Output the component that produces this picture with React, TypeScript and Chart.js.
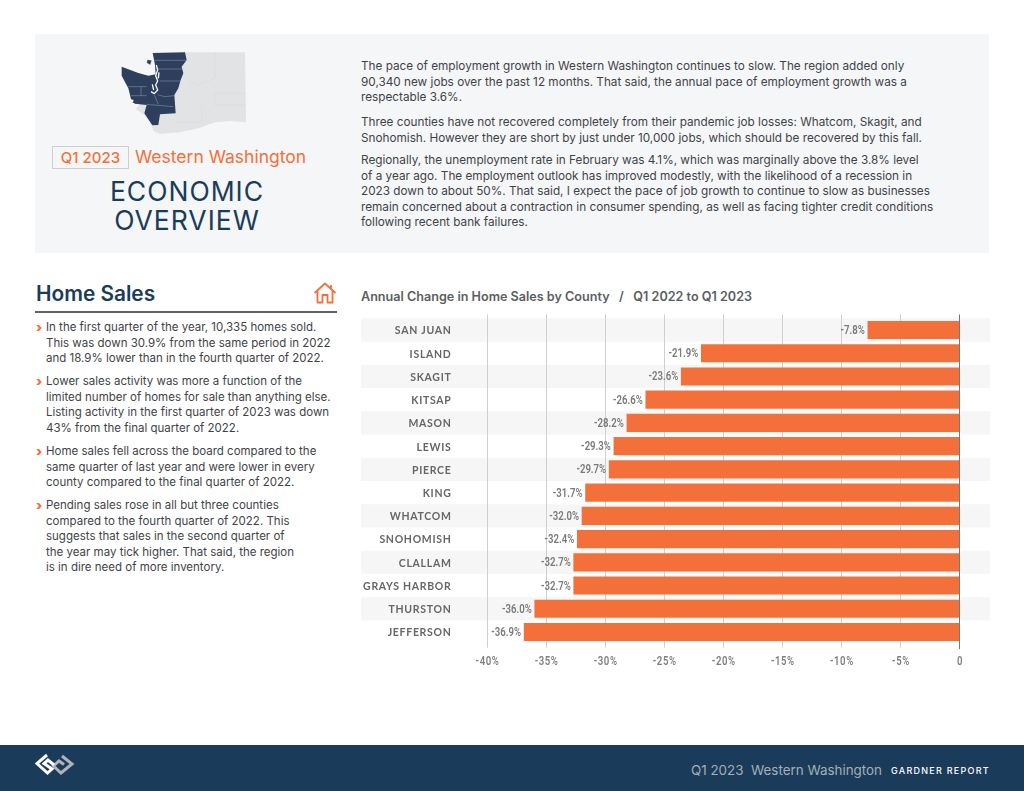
import React, { useEffect, useRef } from "react";
import { Chart, registerables } from "chart.js";

Chart.register(...registerables);

const counties = ["SAN JUAN","ISLAND","SKAGIT","KITSAP","MASON","LEWIS","PIERCE","KING","WHATCOM","SNOHOMISH","CLALLAM","GRAYS HARBOR","THURSTON","JEFFERSON"];
const changes = [-7.8,-21.9,-23.6,-26.6,-28.2,-29.3,-29.7,-31.7,-32.0,-32.4,-32.7,-32.7,-36.0,-36.9];

const introParagraphs = [
  ["The pace of employment growth in Western Washington continues to slow. The region added only","90,340 new jobs over the past 12 months. That said, the annual pace of employment growth was a","respectable 3.6%."],
  ["Three counties have not recovered completely from their pandemic job losses: Whatcom, Skagit, and","Snohomish. However they are short by just under 10,000 jobs, which should be recovered by this fall."],
  ["Regionally, the unemployment rate in February was 4.1%, which was marginally above the 3.8% level","of a year ago. The employment outlook has improved modestly, with the likelihood of a recession in","2023 down to about 50%. That said, I expect the pace of job growth to continue to slow as businesses","remain concerned about a contraction in consumer spending, as well as facing tighter credit conditions","following recent bank failures."],
];
const introTops = [59, 115, 153];

const bullets = [
  ["In the first quarter of the year, 10,335 homes sold.","This was down 30.9% from the same period in 2022","and 18.9% lower than in the fourth quarter of 2022."],
  ["Lower sales activity was more a function of the","limited number of homes for sale than anything else.","Listing activity in the first quarter of 2023 was down","43% from the final quarter of 2022."],
  ["Home sales fell across the board compared to the","same quarter of last year and were lower in every","county compared to the final quarter of 2022."],
  ["Pending sales rose in all but three counties","compared to the fourth quarter of 2022. This","suggests that sales in the second quarter of","the year may tick higher. That said, the region","is in dire need of more inventory."],
];
const bulletTops = [320, 374, 444, 498];

const NAVY = "#1A3C5A";
const ORANGE = "#F4703A";
const BODY = "Inter, sans-serif";
const LABEL = "Lato, sans-serif";
const NARROW = "Roboto, sans-serif";
const SQUEEZE = 0.8;

const abs = (o: React.CSSProperties): React.CSSProperties => ({ position: "absolute", whiteSpace: "nowrap", ...o });

const chartPlugin = {
  id: "reportDecor",
  install(c: any) {
    // value and x-axis labels are set in a condensed face: squeeze any text that holds a digit
    const ctx = c.ctx;
    const orig = ctx.fillText.bind(ctx);
    ctx.fillText = (t: string, x: number, y: number) => {
      if (/\d/.test(String(t))) {
        ctx.save();
        ctx.translate(x, y + 1);
        ctx.scale(SQUEEZE, 1);
        orig(t, 0, 0);
        ctx.restore();
      } else orig(t, x, y + 1);
    };
  },
  beforeDraw(c: any) {
    const { ctx, chartArea, scales } = c;
    ctx.save();
    ctx.fillStyle = "#F6F6F6";
    scales.y.ticks.forEach((_: any, i: number) => {
      if (i % 2 === 0) {
        const mid = scales.y.getPixelForTick(i);
        const h = chartArea.height / counties.length;
        ctx.fillRect(0, mid - h / 2, c.width, h);
      }
    });
    ctx.strokeStyle = "#CFCFCF";
    ctx.lineWidth = 1;
    scales.x.ticks.forEach((t: any) => {
      if (t.value === 0) return;
      const x = Math.floor(scales.x.getPixelForValue(t.value)) + 0.5;
      ctx.beginPath();
      ctx.moveTo(x, chartArea.top - 4);
      ctx.lineTo(x, chartArea.bottom + 4);
      ctx.stroke();
    });
    ctx.restore();
    (ctx as any).letterSpacing = "0.7px";
  },
  beforeDatasetsDraw(c: any) {
    (c.ctx as any).letterSpacing = "0px";
  },
  afterDatasetsDraw(c: any) {
    const { ctx, chartArea, scales } = c;
    ctx.save();
    ctx.strokeStyle = "#777777";
    ctx.lineWidth = 1;
    const x0 = Math.round(scales.x.getPixelForValue(0)) - 0.5;
    ctx.beginPath();
    ctx.moveTo(x0, chartArea.top - 4);
    ctx.lineTo(x0, chartArea.bottom + 5.5);
    ctx.stroke();
    ctx.font = `600 12px ${NARROW}`;
    ctx.fillStyle = "#7A7A7A";
    ctx.textAlign = "right";
    ctx.textBaseline = "middle";
    changes.forEach((v, i) => {
      ctx.fillText(v.toFixed(1) + "%", scales.x.getPixelForValue(v) - 3, scales.y.getPixelForTick(i));
    });
    ctx.restore();
  },
};

function BarChart() {
  const ref = useRef<HTMLCanvasElement>(null);
  useEffect(() => {
    const chart = new Chart(ref.current!, {
      type: "bar",
      data: {
        labels: counties,
        datasets: [{ data: changes, backgroundColor: ORANGE, borderWidth: 0, barThickness: 17.5 }],
      },
      options: {
        indexAxis: "y",
        animation: false,
        responsive: false,
        layout: { padding: { top: 18.4, right: 30, left: 0, bottom: 0 } },
        plugins: { legend: { display: false }, tooltip: { enabled: false } },
        scales: {
          x: {
            min: -40,
            max: 0,
            ticks: {
              stepSize: 5,
              padding: 2,
              maxRotation: 0,
              color: "#7F7F7F",
              font: { family: NARROW, size: 12, weight: "600" },
              callback: (v: any) => (v === 0 ? "0" : `${v}%`),
            },
            grid: { display: false },
            border: { display: false },
            afterFit: (s: any) => { s.height = 36.4; s.paddingLeft = 0; s.paddingRight = 0; },
          },
          y: {
            ticks: {
              padding: 28,
              autoSkip: false,
              color: "#666666",
              font: { family: LABEL, size: 10.5, weight: "bold" },
            },
            grid: { display: false },
            border: { display: false },
            afterFit: (s: any) => { s.width = 126.5; s.paddingTop = 0; s.paddingBottom = 0; },
          },
        },
      } as any,
      plugins: [chartPlugin],
    });
    return () => chart.destroy();
  }, []);
  return <canvas ref={ref} width={629} height={380} style={{ position: "absolute", left: 361, top: 300, width: 629, height: 380 }} />;
}

function WaMap() {
  const line = { fill: "none", stroke: "#C9CEDA", strokeWidth: 1 };
  const sound = { fill: "none", stroke: "#F5F6F8", strokeWidth: 4, strokeLinejoin: "round" as const };
  return (
    <svg viewBox="0 0 420 270" style={{ position: "absolute", left: 115, top: 45, width: 140, height: 90 }}>
      <path fill="#E2E3E5" d="M205 22 L390 22 L393 232 L345 228 L300 232 L250 250 L195 262 L135 267 L115 258 L108 238 L88 210 L62 192 L100 150 Z" />
      <path fill="#2E3F5E" d="M113 24 L210 22 L215 45 L200 65 L205 85 L197 105 L190 130 L178 150 L182 205 L135 208 L130 240 L112 241 L88 205 L95 180 L60 176 L50 170 L40 130 L20 92 L20 65 L70 84 L100 92 L122 88 L120 60 Z" />
      <path {...line} d="M118 46 L214 46 M128 72 L200 72 M135 108 L197 108 M40 125 L95 125 M78 125 L78 152 L95 152 M48 152 L78 152 M95 178 L175 185 M130 150 L150 155 L178 152 M118 150 L130 178" />
      <path {...sound} d="M124 60 L128 75 L122 92 L128 108 L122 120 L128 135 L118 146 L108 140 M132 82 L130 100 M112 118 L116 135" />
      <path fill="#F5F6F8" d="M48 163 L56 165 L54 172 L47 170 Z" />
      <path fill="#2E3F5E" stroke="#F5F6F8" strokeWidth="1" d="M97 44 L110 46 L106 60 L95 53 Z" />
      <path {...line} stroke="#D3D4D7" d="M300 22 L300 100 L250 120 L220 110 M390 145 L300 145 L300 180 L390 180 M260 232 L260 180 M180 232 L260 232" />
    </svg>
  );
}

function HomeIcon() {
  return (
    <svg viewBox="0 0 24 22" style={{ position: "absolute", left: 313, top: 282, width: 24, height: 22 }}>
      <path d="M1.5 11 L12 1.5 L22.5 11 M4.5 9 L4.5 20.5 L9.5 20.5 L9.5 13 L14.5 13 L14.5 20.5 L19.5 20.5 L19.5 9 M18 3 L18 6" fill="none" stroke={ORANGE} strokeWidth="1.8" strokeLinejoin="round" />
    </svg>
  );
}

function Logo() {
  return (
    <svg viewBox="30 750 50 30" style={{ position: "absolute", left: 30, top: 750, width: 50, height: 30 }}>
      <path d="M62 756 L72 764 L61 773 L53.5 766 L59 761 L64 764.5" fill="none" stroke="#B0B3B7" strokeWidth="3" />
      <path d="M47 755 L37 763.5 L47.5 773 L52 769 L44 763.5 L48 760 L54 765" fill="none" stroke="#FFFFFF" strokeWidth="3" />
    </svg>
  );
}

export default function App() {
  return (
    <div style={{ position: "absolute", left: 0, top: 0, width: 1024, height: 791, background: "#FFFFFF", overflow: "hidden", fontFamily: BODY }}>
      <div style={{ position: "absolute", left: 35, top: 34, width: 954, height: 219, background: "#F5F6F8" }} />
      <WaMap />
      <div style={abs({ left: 52, top: 146, width: 75, height: 21, border: "1px solid #CFCFCF", color: ORANGE, fontSize: 15, fontWeight: 500, textAlign: "center", lineHeight: "21px" })}>Q1 2023</div>
      <div style={abs({ left: 135, top: 145, color: ORANGE, fontSize: 17.5, lineHeight: "24px" })}>Western Washington</div>
      <div style={abs({ left: 35, width: 304, top: 177, textAlign: "center", color: NAVY, fontSize: 26.5, lineHeight: "29px", letterSpacing: 1 })}>ECONOMIC<br />OVERVIEW</div>

      {introParagraphs.map((p, i) => (
        <div key={i} style={abs({ left: 361, top: introTops[i], color: "#3F4347", fontSize: 11.75, lineHeight: "15.6px" })}>
          {p.map((l, j) => <div key={j}>{l}</div>)}
        </div>
      ))}

      <div style={abs({ left: 36, top: 280, color: NAVY, fontSize: 20.8, fontWeight: 600, lineHeight: "28px" })}>Home Sales</div>
      <HomeIcon />
      <div style={{ position: "absolute", left: 35, top: 311, width: 302, height: 1.5, background: "#5F6367" }} />
      {bullets.map((p, i) => (
        <React.Fragment key={i}>
          <div style={abs({ left: 36, top: bulletTops[i], color: ORANGE, fontSize: 13, fontWeight: 900, lineHeight: "14px" })}>›</div>
          <div style={abs({ left: 46, top: bulletTops[i], color: "#3F4347", fontSize: 11.5, lineHeight: "15.5px" })}>
            {p.map((l, j) => <div key={j}>{l}</div>)}
          </div>
        </React.Fragment>
      ))}

      <div style={abs({ left: 361, top: 289, color: "#5A5E62", fontSize: 12.6, fontWeight: 600, lineHeight: "16px", whiteSpace: "pre" })}>{"Annual Change in Home Sales by County   /   Q1 2022 to Q1 2023"}</div>
      <BarChart />

      <div style={{ position: "absolute", left: 0, top: 745, width: 1024, height: 46, background: NAVY }} />
      <Logo />
      <div style={abs({ left: 691, top: 761, color: "#A4AFB9", fontSize: 13.4, lineHeight: "18px", whiteSpace: "pre" })}>{"Q1 2023  Western Washington"}</div>
      <div style={abs({ left: 891, top: 764, color: "#FFFFFF", fontSize: 9, fontWeight: 500, letterSpacing: 1.26, lineHeight: "14px" })}>GARDNER REPORT</div>
    </div>
  );
}
